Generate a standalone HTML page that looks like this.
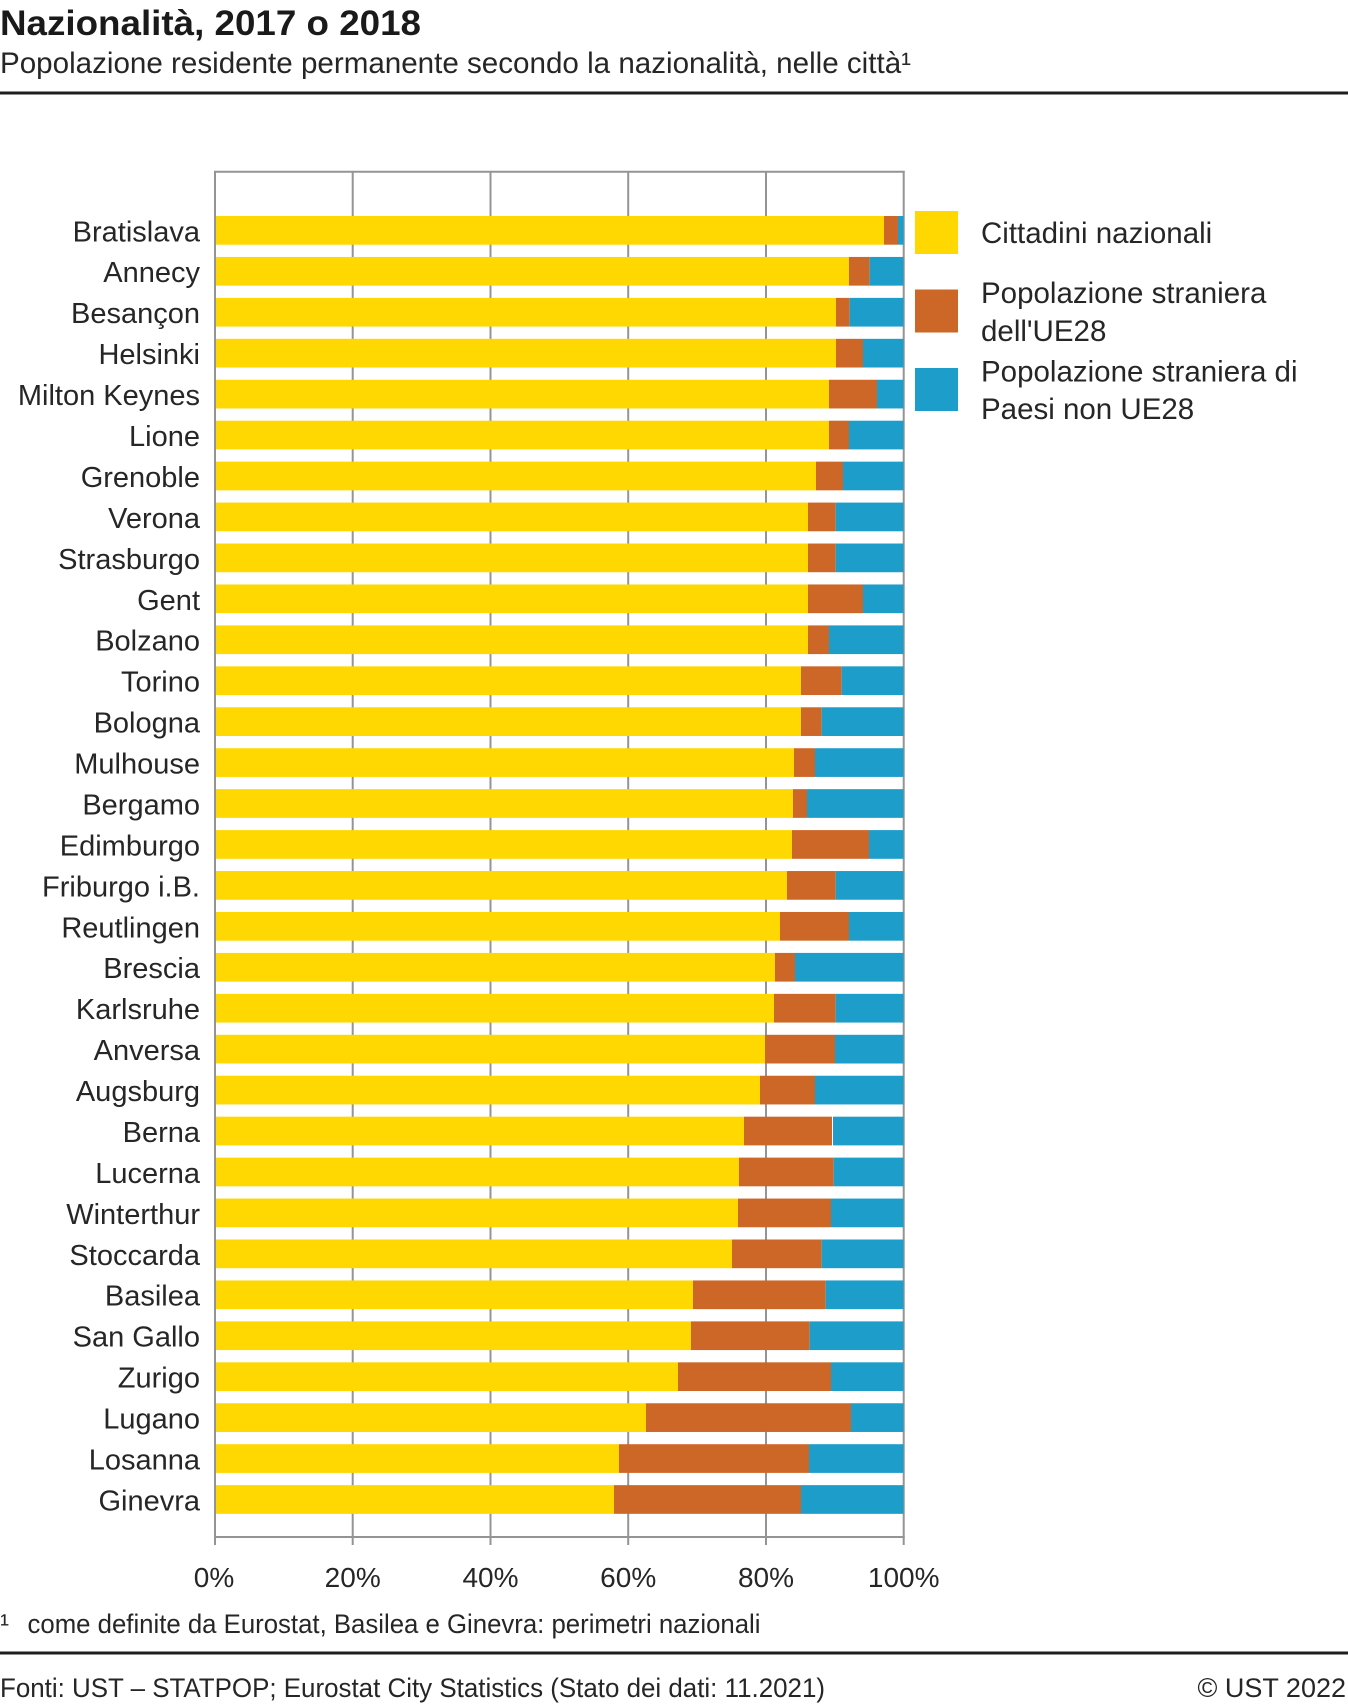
<!DOCTYPE html>
<html>
<head>
<meta charset="utf-8">
<style>
html,body{margin:0;padding:0;background:#fff;}
svg{display:block;}
text{font-family:"Liberation Sans",Arial,sans-serif;fill:#262626;}
</style>
</head>
<body>
<svg width="1348" height="1707" viewBox="0 0 1348 1707" xmlns="http://www.w3.org/2000/svg">
<rect x="0" y="0" width="1348" height="1707" fill="#fff"/>
<!-- Title -->
<text x="0" y="35" font-size="35" font-weight="bold" textLength="421" lengthAdjust="spacingAndGlyphs" style="fill:#1a1a1a">Nazionalità, 2017 o 2018</text>
<text x="0" y="73" font-size="29.5" textLength="911" lengthAdjust="spacingAndGlyphs">Popolazione residente permanente secondo la nazionalità, nelle città¹</text>
<rect x="0" y="91.5" width="1348" height="3" fill="#1e1e1e"/>

<!-- grid -->
<g stroke="#949494" stroke-width="2" fill="none">
<line x1="215" y1="171" x2="215" y2="1545"/>
<line x1="352.7" y1="171" x2="352.7" y2="1545"/>
<line x1="490.5" y1="171" x2="490.5" y2="1545"/>
<line x1="628.2" y1="171" x2="628.2" y2="1545"/>
<line x1="766" y1="171" x2="766" y2="1545"/>
<line x1="903.7" y1="171" x2="903.7" y2="1545"/>
<line x1="214" y1="171.7" x2="904.7" y2="171.7"/>
<line x1="214" y1="1537" x2="904.7" y2="1537"/>
</g>

<!-- bars -->
<g id="bars">
<g transform="translate(0,216)"><rect x="216" y="0" width="668" height="28.7" fill="#fed800"/><rect x="884" y="0" width="14" height="28.7" fill="#cd6727"/><rect x="898" y="0" width="5.5" height="28.7" fill="#1c9dca"/><text x="200" y="25.3" font-size="29" text-anchor="end">Bratislava</text></g>
<g transform="translate(0,256.94)"><rect x="216" y="0" width="633" height="28.7" fill="#fed800"/><rect x="849" y="0" width="20.7" height="28.7" fill="#cd6727"/><rect x="869.7" y="0" width="33.8" height="28.7" fill="#1c9dca"/><text x="200" y="25.3" font-size="29" text-anchor="end">Annecy</text></g>
<g transform="translate(0,297.88)"><rect x="216" y="0" width="620" height="28.7" fill="#fed800"/><rect x="836" y="0" width="13.7" height="28.7" fill="#cd6727"/><rect x="849.7" y="0" width="53.8" height="28.7" fill="#1c9dca"/><text x="200" y="25.3" font-size="29" text-anchor="end">Besançon</text></g>
<g transform="translate(0,338.82)"><rect x="216" y="0" width="620" height="28.7" fill="#fed800"/><rect x="836" y="0" width="27" height="28.7" fill="#cd6727"/><rect x="863" y="0" width="40.5" height="28.7" fill="#1c9dca"/><text x="200" y="25.3" font-size="29" text-anchor="end">Helsinki</text></g>
<g transform="translate(0,379.76)"><rect x="216" y="0" width="613" height="28.7" fill="#fed800"/><rect x="829" y="0" width="48" height="28.7" fill="#cd6727"/><rect x="877" y="0" width="26.5" height="28.7" fill="#1c9dca"/><text x="200" y="25.3" font-size="29" text-anchor="end">Milton Keynes</text></g>
<g transform="translate(0,420.7)"><rect x="216" y="0" width="613" height="28.7" fill="#fed800"/><rect x="829" y="0" width="20" height="28.7" fill="#cd6727"/><rect x="849" y="0" width="54.5" height="28.7" fill="#1c9dca"/><text x="200" y="25.3" font-size="29" text-anchor="end">Lione</text></g>
<g transform="translate(0,461.64)"><rect x="216" y="0" width="600" height="28.7" fill="#fed800"/><rect x="816" y="0" width="27" height="28.7" fill="#cd6727"/><rect x="843" y="0" width="60.5" height="28.7" fill="#1c9dca"/><text x="200" y="25.3" font-size="29" text-anchor="end">Grenoble</text></g>
<g transform="translate(0,502.58)"><rect x="216" y="0" width="592" height="28.7" fill="#fed800"/><rect x="808" y="0" width="27.7" height="28.7" fill="#cd6727"/><rect x="835.7" y="0" width="67.8" height="28.7" fill="#1c9dca"/><text x="200" y="25.3" font-size="29" text-anchor="end">Verona</text></g>
<g transform="translate(0,543.52)"><rect x="216" y="0" width="592" height="28.7" fill="#fed800"/><rect x="808" y="0" width="27.7" height="28.7" fill="#cd6727"/><rect x="835.7" y="0" width="67.8" height="28.7" fill="#1c9dca"/><text x="200" y="25.3" font-size="29" text-anchor="end">Strasburgo</text></g>
<g transform="translate(0,584.46)"><rect x="216" y="0" width="592" height="28.7" fill="#fed800"/><rect x="808" y="0" width="55" height="28.7" fill="#cd6727"/><rect x="863" y="0" width="40.5" height="28.7" fill="#1c9dca"/><text x="200" y="25.3" font-size="29" text-anchor="end">Gent</text></g>
<g transform="translate(0,625.4)"><rect x="216" y="0" width="592" height="28.7" fill="#fed800"/><rect x="808" y="0" width="21" height="28.7" fill="#cd6727"/><rect x="829" y="0" width="74.5" height="28.7" fill="#1c9dca"/><text x="200" y="25.3" font-size="29" text-anchor="end">Bolzano</text></g>
<g transform="translate(0,666.34)"><rect x="216" y="0" width="585" height="28.7" fill="#fed800"/><rect x="801" y="0" width="40.7" height="28.7" fill="#cd6727"/><rect x="841.7" y="0" width="61.8" height="28.7" fill="#1c9dca"/><text x="200" y="25.3" font-size="29" text-anchor="end">Torino</text></g>
<g transform="translate(0,707.28)"><rect x="216" y="0" width="585" height="28.7" fill="#fed800"/><rect x="801" y="0" width="20.7" height="28.7" fill="#cd6727"/><rect x="821.7" y="0" width="81.8" height="28.7" fill="#1c9dca"/><text x="200" y="25.3" font-size="29" text-anchor="end">Bologna</text></g>
<g transform="translate(0,748.22)"><rect x="216" y="0" width="578" height="28.7" fill="#fed800"/><rect x="794" y="0" width="21" height="28.7" fill="#cd6727"/><rect x="815" y="0" width="88.5" height="28.7" fill="#1c9dca"/><text x="200" y="25.3" font-size="29" text-anchor="end">Mulhouse</text></g>
<g transform="translate(0,789.16)"><rect x="216" y="0" width="577" height="28.7" fill="#fed800"/><rect x="793" y="0" width="14" height="28.7" fill="#cd6727"/><rect x="807" y="0" width="96.5" height="28.7" fill="#1c9dca"/><text x="200" y="25.3" font-size="29" text-anchor="end">Bergamo</text></g>
<g transform="translate(0,830.1)"><rect x="216" y="0" width="576" height="28.7" fill="#fed800"/><rect x="792" y="0" width="77" height="28.7" fill="#cd6727"/><rect x="869" y="0" width="34.5" height="28.7" fill="#1c9dca"/><text x="200" y="25.3" font-size="29" text-anchor="end">Edimburgo</text></g>
<g transform="translate(0,871.04)"><rect x="216" y="0" width="571" height="28.7" fill="#fed800"/><rect x="787" y="0" width="48.7" height="28.7" fill="#cd6727"/><rect x="835.7" y="0" width="67.8" height="28.7" fill="#1c9dca"/><text x="200" y="25.3" font-size="29" text-anchor="end">Friburgo i.B.</text></g>
<g transform="translate(0,911.98)"><rect x="216" y="0" width="564" height="28.7" fill="#fed800"/><rect x="780" y="0" width="69" height="28.7" fill="#cd6727"/><rect x="849" y="0" width="54.5" height="28.7" fill="#1c9dca"/><text x="200" y="25.3" font-size="29" text-anchor="end">Reutlingen</text></g>
<g transform="translate(0,952.92)"><rect x="216" y="0" width="559" height="28.7" fill="#fed800"/><rect x="775" y="0" width="20" height="28.7" fill="#cd6727"/><rect x="795" y="0" width="108.5" height="28.7" fill="#1c9dca"/><text x="200" y="25.3" font-size="29" text-anchor="end">Brescia</text></g>
<g transform="translate(0,993.86)"><rect x="216" y="0" width="558" height="28.7" fill="#fed800"/><rect x="774" y="0" width="61.7" height="28.7" fill="#cd6727"/><rect x="835.7" y="0" width="67.8" height="28.7" fill="#1c9dca"/><text x="200" y="25.3" font-size="29" text-anchor="end">Karlsruhe</text></g>
<g transform="translate(0,1034.8)"><rect x="216" y="0" width="549" height="28.7" fill="#fed800"/><rect x="765" y="0" width="70" height="28.7" fill="#cd6727"/><rect x="835" y="0" width="68.5" height="28.7" fill="#1c9dca"/><text x="200" y="25.3" font-size="29" text-anchor="end">Anversa</text></g>
<g transform="translate(0,1075.74)"><rect x="216" y="0" width="544" height="28.7" fill="#fed800"/><rect x="760" y="0" width="55" height="28.7" fill="#cd6727"/><rect x="815" y="0" width="88.5" height="28.7" fill="#1c9dca"/><text x="200" y="25.3" font-size="29" text-anchor="end">Augsburg</text></g>
<g transform="translate(0,1116.68)"><rect x="216" y="0" width="528" height="28.7" fill="#fed800"/><rect x="744" y="0" width="88" height="28.7" fill="#cd6727"/><rect x="833" y="0" width="70.5" height="28.7" fill="#1c9dca"/><text x="200" y="25.3" font-size="29" text-anchor="end">Berna</text></g>
<g transform="translate(0,1157.62)"><rect x="216" y="0" width="523" height="28.7" fill="#fed800"/><rect x="739" y="0" width="94.7" height="28.7" fill="#cd6727"/><rect x="833.7" y="0" width="69.8" height="28.7" fill="#1c9dca"/><text x="200" y="25.3" font-size="29" text-anchor="end">Lucerna</text></g>
<g transform="translate(0,1198.56)"><rect x="216" y="0" width="522" height="28.7" fill="#fed800"/><rect x="738" y="0" width="93" height="28.7" fill="#cd6727"/><rect x="831" y="0" width="72.5" height="28.7" fill="#1c9dca"/><text x="200" y="25.3" font-size="29" text-anchor="end">Winterthur</text></g>
<g transform="translate(0,1239.5)"><rect x="216" y="0" width="516" height="28.7" fill="#fed800"/><rect x="732" y="0" width="89.7" height="28.7" fill="#cd6727"/><rect x="821.7" y="0" width="81.8" height="28.7" fill="#1c9dca"/><text x="200" y="25.3" font-size="29" text-anchor="end">Stoccarda</text></g>
<g transform="translate(0,1280.44)"><rect x="216" y="0" width="477" height="28.7" fill="#fed800"/><rect x="693" y="0" width="132.7" height="28.7" fill="#cd6727"/><rect x="825.7" y="0" width="77.8" height="28.7" fill="#1c9dca"/><text x="200" y="25.3" font-size="29" text-anchor="end">Basilea</text></g>
<g transform="translate(0,1321.38)"><rect x="216" y="0" width="475" height="28.7" fill="#fed800"/><rect x="691" y="0" width="118.7" height="28.7" fill="#cd6727"/><rect x="809.7" y="0" width="93.8" height="28.7" fill="#1c9dca"/><text x="200" y="25.3" font-size="29" text-anchor="end">San Gallo</text></g>
<g transform="translate(0,1362.32)"><rect x="216" y="0" width="462" height="28.7" fill="#fed800"/><rect x="678" y="0" width="153" height="28.7" fill="#cd6727"/><rect x="831" y="0" width="72.5" height="28.7" fill="#1c9dca"/><text x="200" y="25.3" font-size="29" text-anchor="end">Zurigo</text></g>
<g transform="translate(0,1403.26)"><rect x="216" y="0" width="430" height="28.7" fill="#fed800"/><rect x="646" y="0" width="205" height="28.7" fill="#cd6727"/><rect x="851" y="0" width="52.5" height="28.7" fill="#1c9dca"/><text x="200" y="25.3" font-size="29" text-anchor="end">Lugano</text></g>
<g transform="translate(0,1444.2)"><rect x="216" y="0" width="403" height="28.7" fill="#fed800"/><rect x="619" y="0" width="190" height="28.7" fill="#cd6727"/><rect x="809" y="0" width="94.5" height="28.7" fill="#1c9dca"/><text x="200" y="25.3" font-size="29" text-anchor="end">Losanna</text></g>
<g transform="translate(0,1485.14)"><rect x="216" y="0" width="398" height="28.7" fill="#fed800"/><rect x="614" y="0" width="187" height="28.7" fill="#cd6727"/><rect x="801" y="0" width="102.5" height="28.7" fill="#1c9dca"/><text x="200" y="25.3" font-size="29" text-anchor="end">Ginevra</text></g>
</g>

<!-- x tick labels -->
<g font-size="28" text-anchor="middle">
<text x="214" y="1587">0%</text>
<text x="352.7" y="1587">20%</text>
<text x="490.5" y="1587">40%</text>
<text x="628.2" y="1587">60%</text>
<text x="766" y="1587">80%</text>
<text x="903.7" y="1587">100%</text>
</g>

<!-- legend -->
<rect x="915" y="211" width="43" height="43" fill="#fed800"/>
<rect x="915" y="289.5" width="43" height="43" fill="#cd6727"/>
<rect x="915" y="368" width="43" height="43" fill="#1c9dca"/>
<g font-size="29.5">
<text x="981" y="243">Cittadini nazionali</text>
<text x="981" y="303">Popolazione straniera</text>
<text x="981" y="341">dell'UE28</text>
<text x="981" y="381.5">Popolazione straniera di</text>
<text x="981" y="419">Paesi non UE28</text>
</g>

<!-- footnote -->
<text x="0" y="1633" font-size="27">¹</text>
<text x="27.5" y="1633" font-size="27" textLength="733" lengthAdjust="spacingAndGlyphs">come definite da Eurostat, Basilea e Ginevra: perimetri nazionali</text>
<rect x="0" y="1651.5" width="1348" height="3" fill="#1e1e1e"/>
<text x="0" y="1697" font-size="27" textLength="825" lengthAdjust="spacingAndGlyphs">Fonti: UST – STATPOP; Eurostat City Statistics (Stato dei dati: 11.2021)</text>
<text x="1346" y="1697" font-size="27" text-anchor="end">© UST 2022</text>
</svg>
</body>
</html>
